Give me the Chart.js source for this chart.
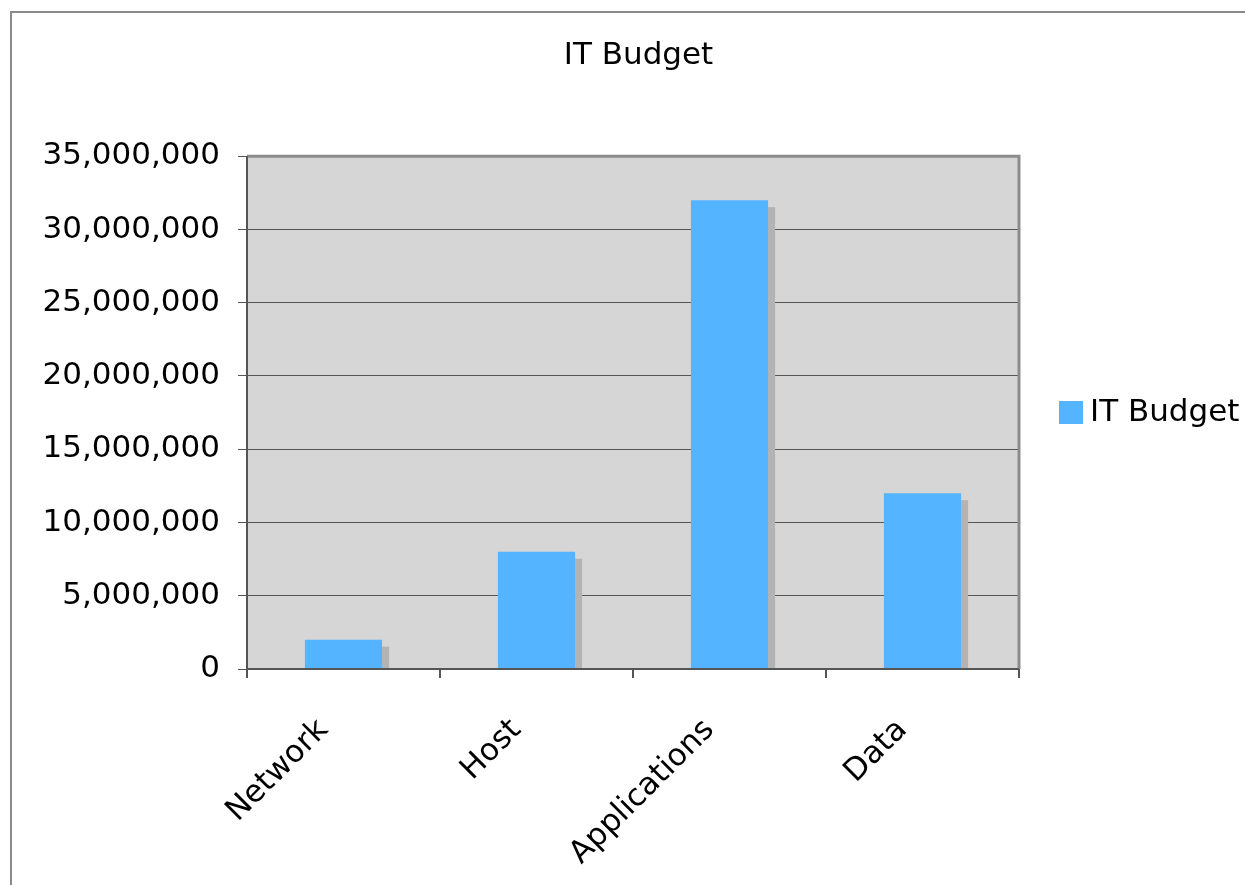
<!DOCTYPE html>
<html>
<head>
<meta charset="utf-8">
<title>IT Budget</title>
<script src="https://cdn.jsdelivr.net/npm/chart.js@4"></script>
<style>
  html, body { margin: 0; padding: 0; background: #fff; }
  #frame {
    position: absolute; left: 10px; top: 11px; width: 1300px; height: 1000px;
    border-left: 2px solid #8a8a8a; border-top: 2px solid #8a8a8a;
  }
  #wrap { position: absolute; left: 0; top: 0; width: 1245px; height: 885px; }
</style>
</head>
<body>
<div id="frame"></div>
<div id="wrap"><canvas id="budgetChart" width="1245" height="885"></canvas></div>
<script>
const categories = ['Network', 'Host', 'Applications', 'Data'];
const budget = [2000000, 8000000, 32000000, 12000000];
const seriesName = 'IT Budget';

const FONT = 'DejaVu Sans, Verdana, sans-serif';
const BAR_COLOR = '#55b4ff';

// grey plot background plus the outline round it
const plotFrame = {
  id: 'plotFrame',
  beforeDraw(chart) {
    const { ctx, chartArea: a } = chart;
    ctx.save();
    ctx.fillStyle = '#d6d6d6';
    ctx.fillRect(a.left, a.top, a.right - a.left, a.bottom - a.top);
    ctx.restore();
  },
  afterDatasetsDraw(chart) {
    const { ctx, chartArea: a } = chart;
    ctx.save();
    ctx.strokeStyle = '#8c8c8c';
    ctx.lineWidth = 3;
    ctx.beginPath();
    ctx.moveTo(a.left, a.top);
    ctx.lineTo(a.right, a.top);
    ctx.lineTo(a.right, a.bottom);
    ctx.stroke();
    ctx.strokeStyle = '#555';
    ctx.lineWidth = 2;
    ctx.beginPath();
    ctx.moveTo(a.left, a.top);
    ctx.lineTo(a.left, a.bottom);
    ctx.lineTo(a.right, a.bottom);
    ctx.stroke();
    ctx.restore();
  }
};

// flat drop shadow to the right of each bar
const barShadow = {
  id: 'barShadow',
  beforeDatasetsDraw(chart) {
    const { ctx } = chart;
    const meta = chart.getDatasetMeta(0);
    ctx.save();
    ctx.fillStyle = '#b3b3b3';
    meta.data.forEach(bar => {
      const right = bar.x + bar.width / 2;
      ctx.fillRect(right, bar.y + 7, 7, bar.base - bar.y - 7);
    });
    ctx.restore();
  }
};

// legend box on the right side
const sideLegend = {
  id: 'sideLegend',
  afterDraw(chart) {
    const { ctx, chartArea: a } = chart;
    const cy = 413;
    const x = a.right + 40;
    ctx.save();
    ctx.fillStyle = BAR_COLOR;
    ctx.fillRect(x, cy - 12, 24, 23);
    ctx.fillStyle = '#000';
    ctx.font = '31px ' + FONT;
    ctx.textBaseline = 'middle';
    ctx.textAlign = 'left';
    ctx.fillText(seriesName, x + 31, cy);
    ctx.restore();
  }
};

const ctx = document.getElementById('budgetChart').getContext('2d');
new Chart(ctx, {
  type: 'bar',
  data: {
    labels: categories,
    datasets: [{
      label: seriesName,
      data: budget,
      backgroundColor: BAR_COLOR,
      borderWidth: 0,
      categoryPercentage: 0.4,
      barPercentage: 1.0
    }]
  },
  plugins: [plotFrame, barShadow, sideLegend],
  options: {
    responsive: false,
    animation: false,
    layout: { padding: { left: 32, right: 0, top: 0, bottom: 0 } },
    plugins: {
      legend: { display: false },
      tooltip: { enabled: false },
      title: {
        display: true,
        text: seriesName,
        color: '#000',
        font: { family: FONT, size: 31, weight: 'normal' },
        padding: { top: 37, bottom: 82 }
      }
    },
    scales: {
      x: {
        afterFit(scale) { scale.height = 216; },
        grid: {
          offset: true,
          drawOnChartArea: false,
          drawTicks: true,
          tickLength: 9,
          color: '#555',
          lineWidth: 2
        },
        border: { display: false },
        ticks: {
          maxRotation: 45,
          minRotation: 45,
          padding: 34,
          labelOffset: -20,
          color: '#000',
          font: { family: FONT, size: 31 }
        }
      },
      y: {
        min: 0,
        max: 35000000,
        afterFit(scale) { scale.width = 215; },
        grid: {
          color: '#555',
          lineWidth: 1,
          tickLength: 9
        },
        border: { display: false },
        ticks: {
          stepSize: 5000000,
          padding: 18,
          color: '#000',
          font: { family: FONT, size: 31 },
          callback: v => v.toLocaleString('en-US')
        }
      },
      // empty right-hand axis that reserves room for the legend
      legendSpace: {
        type: 'linear',
        position: 'right',
        afterFit(scale) { scale.width = 226; },
        grid: { drawOnChartArea: false, drawTicks: false },
        border: { display: false },
        ticks: { display: false }
      }
    }
  }
});
</script>
</body>
</html>
